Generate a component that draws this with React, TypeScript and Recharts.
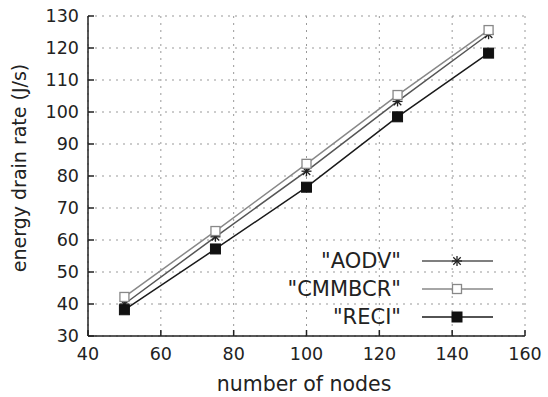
import { LineChart, Line, XAxis, YAxis, CartesianGrid } from 'recharts';

const nodes = [50, 75, 100, 125, 150];
const aodv = [40.0, 61.0, 81.5, 103.3, 124.3];
const cmmbcr = [42.2, 62.8, 83.8, 105.3, 125.6];
const reci = [38.2, 57.2, 76.5, 98.5, 118.4];

const xTicks = [40, 60, 80, 100, 120, 140, 160];
const yTicks = [30, 40, 50, 60, 70, 80, 90, 100, 110, 120, 130];

const series = [
  { key: 'aodv', name: '"AODV"', color: '#555', marker: 'star' },
  { key: 'cmmbcr', name: '"CMMBCR"', color: '#888', marker: 'open' },
  { key: 'reci', name: '"RECI"', color: '#1a1a1a', marker: 'filled' },
];

const FONT = 'DejaVu Sans, sans-serif';

const data = nodes.map((n, i) => ({
  nodes: n,
  aodv: aodv[i],
  cmmbcr: cmmbcr[i],
  reci: reci[i],
}));

// gnuplot-like point shapes
const Marker = ({ cx, cy, type, color }: any) => {
  if (cx == null || cy == null) return null;
  if (type === 'star') {
    const r = 5;
    return (
      <g stroke='#222' strokeWidth={1.3}>
        <line x1={cx - r} y1={cy} x2={cx + r} y2={cy} />
        <line x1={cx} y1={cy - r} x2={cx} y2={cy + r} />
        <line x1={cx - r * 0.75} y1={cy - r * 0.75} x2={cx + r * 0.75} y2={cy + r * 0.75} />
        <line x1={cx - r * 0.75} y1={cy + r * 0.75} x2={cx + r * 0.75} y2={cy - r * 0.75} />
      </g>
    );
  }
  if (type === 'open') {
    return (
      <rect x={cx - 4.5} y={cy - 4.5} width={9} height={9} fill='#fff' stroke={color} strokeWidth={1.3} />
    );
  }
  return <rect x={cx - 5} y={cy - 5} width={10} height={10} fill='#111' stroke='#111' />;
};

// legend + axis titles as an overlay, so they take no space from the plot
const Overlay = () => (
  <svg width={548} height={397} style={{ position: 'absolute', left: 0, top: 0, pointerEvents: 'none' }}>
    <text
      transform='translate(26,168) rotate(-90)'
      textAnchor='middle'
      fontFamily={FONT}
      fontSize={19}
      fill='#222'
    >
      energy drain rate (J/s)
    </text>
    <text x={304} y={391} textAnchor='middle' fontFamily={FONT} fontSize={20.5} fill='#222'>
      number of nodes
    </text>
    {series.map((s, i) => {
      const y = 261 + i * 28;
      return (
        <g key={s.key}>
          <text x={401} y={y} dy='0.35em' textAnchor='end' fontFamily={FONT} fontSize={21} fill='#222'>
            {s.name}
          </text>
          <line x1={422} y1={y} x2={493} y2={y} stroke={s.color} strokeWidth={1.5} />
          <Marker cx={457} cy={y} type={s.marker} color={s.color} />
        </g>
      );
    })}
  </svg>
);

const App = () => {
  const tickStyle = { fontFamily: FONT, fontSize: 17.5, fill: '#222' };
  return (
    <div style={{ position: 'absolute', left: 0, top: 0, width: 548, height: 397, background: '#fff' }}>
      <LineChart width={548} height={397} data={data} margin={{ top: 16, right: 23, bottom: 0, left: 0 }}>
        <CartesianGrid xAxisId='b' yAxisId='l' stroke='#999' strokeDasharray='2 5' />
        <XAxis
          xAxisId='b'
          dataKey='nodes'
          type='number'
          domain={[40, 160]}
          ticks={xTicks}
          interval={0}
          height={61}
          stroke='#222'
          strokeWidth={1.5}
          tickSize={-6}
          tickMargin={18}
          tick={tickStyle}
        />
        <XAxis
          xAxisId='t'
          dataKey='nodes'
          type='number'
          orientation='top'
          domain={[40, 160]}
          ticks={xTicks}
          interval={0}
          height={0}
          stroke='#222'
          strokeWidth={1.5}
          tickSize={-6}
          tick={false}
        />
        <YAxis
          yAxisId='l'
          type='number'
          domain={[30, 130]}
          ticks={yTicks}
          interval={0}
          width={88}
          stroke='#222'
          strokeWidth={1.5}
          tickSize={-6}
          tickMargin={15}
          tick={tickStyle}
        />
        <YAxis
          yAxisId='r'
          orientation='right'
          type='number'
          domain={[30, 130]}
          ticks={yTicks}
          interval={0}
          width={0}
          stroke='#222'
          strokeWidth={1.5}
          tickSize={-6}
          tick={false}
        />
        {series.map((s) => (
          <Line
            key={s.key}
            xAxisId='b'
            yAxisId='l'
            dataKey={s.key}
            name={s.name}
            type='linear'
            stroke={s.color}
            strokeWidth={1.5}
            dot={(p: any) => <Marker key={s.key + p.index} cx={p.cx} cy={p.cy} type={s.marker} color={s.color} />}
            activeDot={false}
            isAnimationActive={false}
          />
        ))}
      </LineChart>
      <Overlay />
    </div>
  );
};

export default App;
